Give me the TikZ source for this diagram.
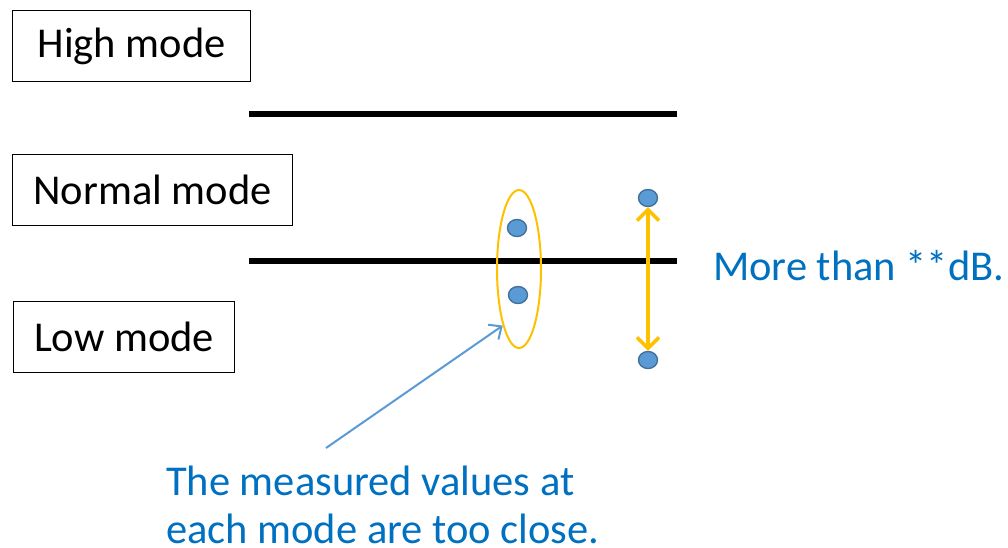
\documentclass[tikz,border=0pt]{standalone}
\usepackage{fontspec}
\setmainfont{Carlito}
\usetikzlibrary{arrows.meta,shapes.geometric}
\definecolor{dotfill}{HTML}{5B9BD5}
\definecolor{dotedge}{HTML}{41719C}
\definecolor{gold}{HTML}{FFC000}
\definecolor{txtblue}{HTML}{0070C0}
\tikzset{
  modebox/.style={draw=black, line width=1.2pt, minimum height=71pt, inner sep=0pt, font=\fontsize{42.5}{50}\selectfont, anchor=north west},
  level/.style={line width=6.5pt},
  dot/.style={ellipse, draw=dotedge, fill=dotfill, line width=1.4pt, minimum width=19pt, minimum height=17pt, inner sep=0pt},
  note/.style={text=txtblue, font=\fontsize{42.5}{48}\selectfont, anchor=west, inner sep=0pt},
}
\begin{document}
\begin{tikzpicture}[x=1pt,y=-1pt]
\useasboundingbox (0,0) rectangle (1008,547);
\node[modebox, minimum width=238pt] (high) at (12,10) {High mode};
\node[modebox, minimum width=280pt] (normal) at (12,154) {Normal mode};
\node[modebox, minimum width=221pt] (low) at (13,301) {Low mode};
\coordinate (l1a) at (249,114); \coordinate (l1b) at (677,114);
\coordinate (l2a) at (249,261); \coordinate (l2b) at (677,261);
\draw[level] (l1a) -- (l1b);
\draw[level] (l2a) -- (l2b);
\node[ellipse, draw=gold, line width=2pt, minimum width=44pt, minimum height=158pt, inner sep=0pt] (ring) at (519,269) {};
\node[dot] (d1) at (517,228) {};
\node[dot] (d2) at (518,295) {};
\node[dot] (d3) at (648,198) {};
\node[dot] (d4) at (648,360) {};
\draw[gold, line width=3.5pt, {Straight Barb[length=11pt,width=22pt]}-{Straight Barb[length=11pt,width=22pt]}] (d3) -- (d4);
\node[note] (more) at (713,266) {More than **dB.};
\node[note, align=left, anchor=north west] (meas) at (166,466) {The measured values at\\each mode are too close.};
\coordinate (tail) at (326,448);
\draw[dotfill, line width=2pt, -{Straight Barb[length=10pt,width=18pt]}] (tail) -- (ring.south west) ;
\end{tikzpicture}
\end{document}
